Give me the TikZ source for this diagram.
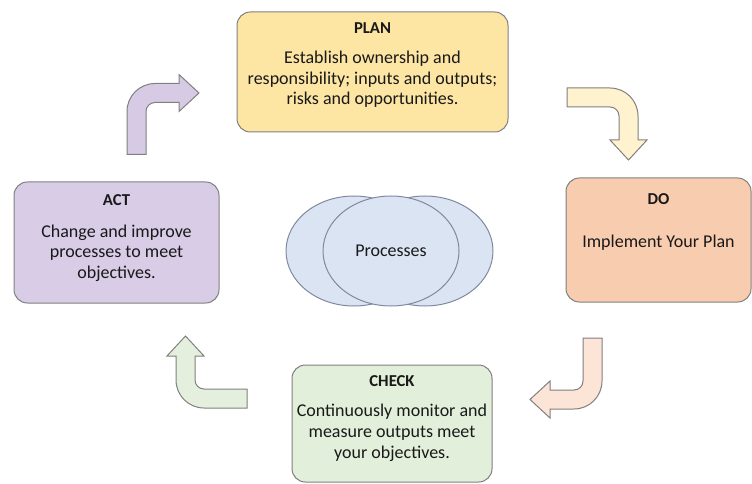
\documentclass[tikz,border=0pt]{standalone}
\usepackage{fontspec}
\setmainfont{Carlito}
\usetikzlibrary{positioning,shapes.geometric}

\definecolor{planfill}{RGB}{253,229,163}
\definecolor{dofill}{RGB}{248,204,175}
\definecolor{checkfill}{RGB}{226,239,218}
\definecolor{actfill}{RGB}{216,204,230}
\definecolor{planarrow}{RGB}{255,242,206}
\definecolor{doarrow}{RGB}{252,228,214}
\definecolor{checkarrow}{RGB}{228,240,221}
\definecolor{actarrow}{RGB}{214,202,228}
\definecolor{procfill}{RGB}{219,228,243}
\definecolor{procline}{RGB}{128,138,158}
\definecolor{edgegray}{RGB}{128,128,128}
\definecolor{inkgray}{RGB}{25,25,25}

\tikzset{
  bentarrow/.pic={
    \path[pic actions] (-36,40) -- (-36,-3) arc[start angle=180, end angle=270, radius=28]
      -- (16,-31) -- (16,-40) -- (36,-21.5) -- (16,-3) -- (16,-12) -- (-8,-12)
      arc[start angle=270, end angle=180, radius=9] -- (-17,40) -- cycle;
  }
}

\begin{document}
\begin{tikzpicture}[
  x=0.75pt, y=-0.75pt,
  phase/.style={draw=edgegray, line width=0.75pt, rounded corners=10pt},
  phasehead/.style={font=\fontsize{12.5}{15}\selectfont\bfseries, text=inkgray, inner sep=0pt},
  phasetext/.style={font=\fontsize{13.5}{15.5}\selectfont, text=inkgray, align=center, inner sep=0pt},
  turn/.style={draw=edgegray, line width=0.75pt},
  procring/.style={ellipse, draw=procline, fill=procfill, line width=0.75pt,
    minimum width=102pt, minimum height=82.5pt, inner sep=0pt,
    font=\fontsize{13.5}{15}\selectfont, text=inkgray}
]
\useasboundingbox (0,0) rectangle (752,484);

% the four phases
\node[phase, fill=planfill, minimum width=203.25pt, minimum height=90pt] (plan) at (372.5,72) {};
\node[phasehead, below=8pt of plan.north] (planhead) {PLAN};
\node[phasetext, below=13pt of planhead] (plantext) {Establish ownership and\\responsibility; inputs and outputs;\\risks and opportunities.};

\node[phase, fill=dofill, minimum width=138.75pt, minimum height=93pt] (do) at (658.5,240) {};
\node[phasehead, below=12pt of do.north] (dohead) {DO};
\node[phasetext, below=22pt of dohead] (dotext) {Implement Your Plan};

\node[phase, fill=checkfill, minimum width=150pt, minimum height=87.75pt] (check) at (392,423.5) {};
\node[phasehead, below=8pt of check.north] (checkhead) {CHECK};
\node[phasetext, below=13pt of checkhead] (checktext) {Continuously monitor and\\measure outputs meet\\your objectives.};

\node[phase, fill=actfill, minimum width=153.75pt, minimum height=90.75pt] (act) at (116.5,242.5) {};
\node[phasehead, below=9.5pt of act.north] (acthead) {ACT};
\node[phasetext, below=14pt of acthead] (acttext) {Change and improve\\processes to meet\\objectives.};

% processes in the middle
\node[procring] (procleft) at (354,251) {};
\node[procring] (procright) at (425,251) {};
\node[procring] (proc) at (391,251) {Processes};

% turning arrows
\pic[turn, fill=actarrow] at (163,114.5) {bentarrow};
\pic[turn, fill=planarrow, rotate=-90] at (607,124) {bentarrow};
\pic[turn, fill=doarrow, rotate=180] at (566,378) {bentarrow};
\pic[turn, fill=checkarrow, rotate=90] at (207,372) {bentarrow};

\end{tikzpicture}
\end{document}
